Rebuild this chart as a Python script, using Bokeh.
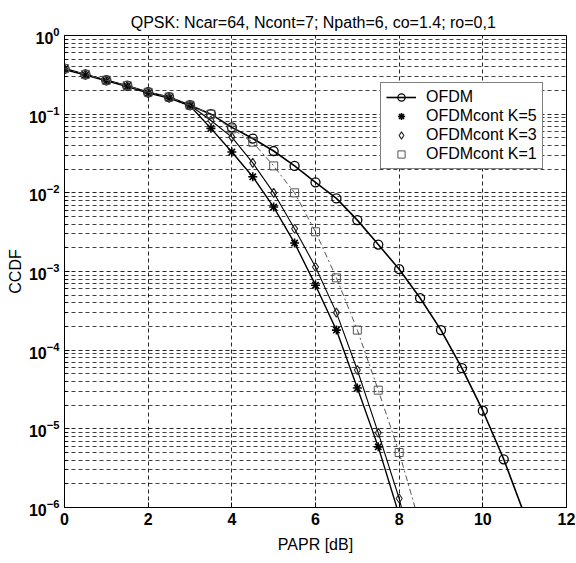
from bokeh.plotting import figure
from bokeh.models import FixedTicker, Legend, LegendItem, Title
from bokeh.embed import file_html
from bokeh.resources import INLINE

# ---- data ----
papr_ofdm = [0, 0.5, 1, 1.5, 2, 2.5, 3, 3.5, 4, 4.5, 5, 5.5, 6, 6.5, 7, 7.5, 8, 8.5, 9, 9.5, 10, 10.5, 11]
ccdf_ofdm = [0.38, 0.32, 0.27, 0.23, 0.19, 0.165, 0.13, 0.10, 0.068, 0.049, 0.034, 0.022, 0.0136,
             0.0085, 0.0045, 0.0022, 0.00107, 4.6e-4, 1.8e-4, 5.9e-5, 1.7e-5, 4.1e-6, 8e-7]

papr_k5 = [0, 0.5, 1, 1.5, 2, 2.5, 3, 3.5, 4, 4.5, 5, 5.5, 6, 6.5, 7, 7.5, 8]
ccdf_k5 = [0.37, 0.315, 0.265, 0.225, 0.185, 0.16, 0.128, 0.066, 0.033, 0.016, 0.0066, 0.0023,
           6.7e-4, 1.8e-4, 3.3e-5, 5.9e-6, 8e-7]

papr_k3 = [0, 0.5, 1, 1.5, 2, 2.5, 3, 3.5, 4, 4.5, 5, 5.5, 6, 6.5, 7, 7.5, 8, 8.5]
ccdf_k3 = [0.375, 0.32, 0.27, 0.228, 0.19, 0.163, 0.13, 0.083, 0.051, 0.024, 0.010, 0.0035,
           1.14e-3, 3.0e-4, 5.6e-5, 8.9e-6, 1.3e-6, 1.2e-7]

papr_k1 = [0, 0.5, 1, 1.5, 2, 2.5, 3, 3.5, 4, 4.5, 5, 5.5, 6, 6.5, 7, 7.5, 8, 8.5]
ccdf_k1 = [0.38, 0.32, 0.27, 0.23, 0.19, 0.165, 0.13, 0.10, 0.065, 0.044, 0.022, 0.010,
           3.2e-3, 8.3e-4, 1.8e-4, 3.1e-5, 5.0e-6, 6e-7]

x_ticks = [0, 2, 4, 6, 8, 10, 12]
y_ticks = [1e-6, 1e-5, 1e-4, 1e-3, 1e-2, 1e-1, 1]
y_minor = [m * 10.0 ** e for e in range(-6, 0) for m in range(2, 10)]

title_text = "QPSK:  Ncar=64, Ncont=7; Npath=6, co=1.4; ro=0,1"
labels = ["OFDM", "OFDMcont K=5", "OFDMcont K=3", "OFDMcont K=1"]

FONT = "Liberation Sans"

p = figure(width=576, height=563, x_range=(0, 12), y_range=(1e-6, 1), y_axis_type="log",
           output_backend="svg", toolbar_location=None,
           min_border_left=64, min_border_right=10, min_border_top=35, min_border_bottom=56)
p.title = Title(text=title_text, align="center", offset=25, text_color="black",
                text_font=FONT, text_font_size="16px", text_font_style="normal")
p.outline_line_color = "black"
p.outline_line_width = 1
p.background_fill_color = "white"
p.border_fill_color = "white"

# axes
p.xaxis.ticker = FixedTicker(ticks=x_ticks)
p.yaxis.ticker = FixedTicker(ticks=y_ticks, minor_ticks=y_minor)
for ax in (p.xaxis[0], p.yaxis[0]):
    ax.axis_line_color = "black"
    ax.major_tick_in = 5
    ax.major_tick_out = 0
    ax.minor_tick_in = 3
    ax.minor_tick_out = 0
    ax.major_label_text_font = FONT
    ax.major_label_text_font_size = "16px"
    ax.major_label_text_font_style = "bold"
    ax.major_label_text_color = "black"
    ax.axis_label_text_font = FONT
    ax.axis_label_text_font_size = "16px"
    ax.axis_label_text_font_style = "normal"
    ax.axis_label_text_color = "black"
p.xaxis.axis_label = "PAPR [dB]"
p.yaxis.axis_label = "CCDF"
p.xaxis.axis_label_standoff = 8
p.yaxis.axis_label_standoff = 2

# grid
p.xgrid.grid_line_color = "black"
p.xgrid.grid_line_dash = "4 3"
p.xgrid.grid_line_alpha = 0.85
p.ygrid.grid_line_color = "black"
p.ygrid.grid_line_dash = "4 3"
p.ygrid.grid_line_alpha = 0.85
p.ygrid.minor_grid_line_color = "black"
p.ygrid.minor_grid_line_dash = "4 3"
p.ygrid.minor_grid_line_alpha = 0.75

# curves
l0 = p.line(papr_ofdm, ccdf_ofdm, line_color="black", line_width=1.6)
m0 = p.scatter(papr_ofdm, ccdf_ofdm, marker="circle", size=9, line_color="black",
               line_width=1.3, fill_color=None)

l1 = p.line(papr_k5, ccdf_k5, line_color="black", line_width=1.4)
m1 = p.scatter(papr_k5, ccdf_k5, marker="asterisk", size=9, line_color="black", line_width=1.6)

l2 = p.line(papr_k3, ccdf_k3, line_color="black", line_width=1.1)
m2 = p.scatter(papr_k3, ccdf_k3, marker="diamond", size=9, line_color="#222222",
               line_width=1.1, fill_color=None)

l3 = p.line(papr_k1, ccdf_k1, line_color="#555555", line_width=1.0, line_dash="6 3 2 3")
m3 = p.scatter(papr_k1, ccdf_k1, marker="square", size=8, line_color="#555555",
               line_width=1.0, fill_color=None)

legend = Legend(items=[LegendItem(label=labels[0], renderers=[l0, m0]),
                       LegendItem(label=labels[1], renderers=[m1]),
                       LegendItem(label=labels[2], renderers=[m2]),
                       LegendItem(label=labels[3], renderers=[m3])],
                location=(316, 338), border_line_color="black", border_line_width=1,
                background_fill_color="white", background_fill_alpha=1,
                label_text_font=FONT, label_text_font_size="16px", label_text_color="black",
                label_height=18, glyph_height=18, glyph_width=30, spacing=1,
                padding=5, margin=0, label_standoff=10)
p.add_layout(legend, "center")

open("out.html", "w").write(file_html(p, INLINE))
